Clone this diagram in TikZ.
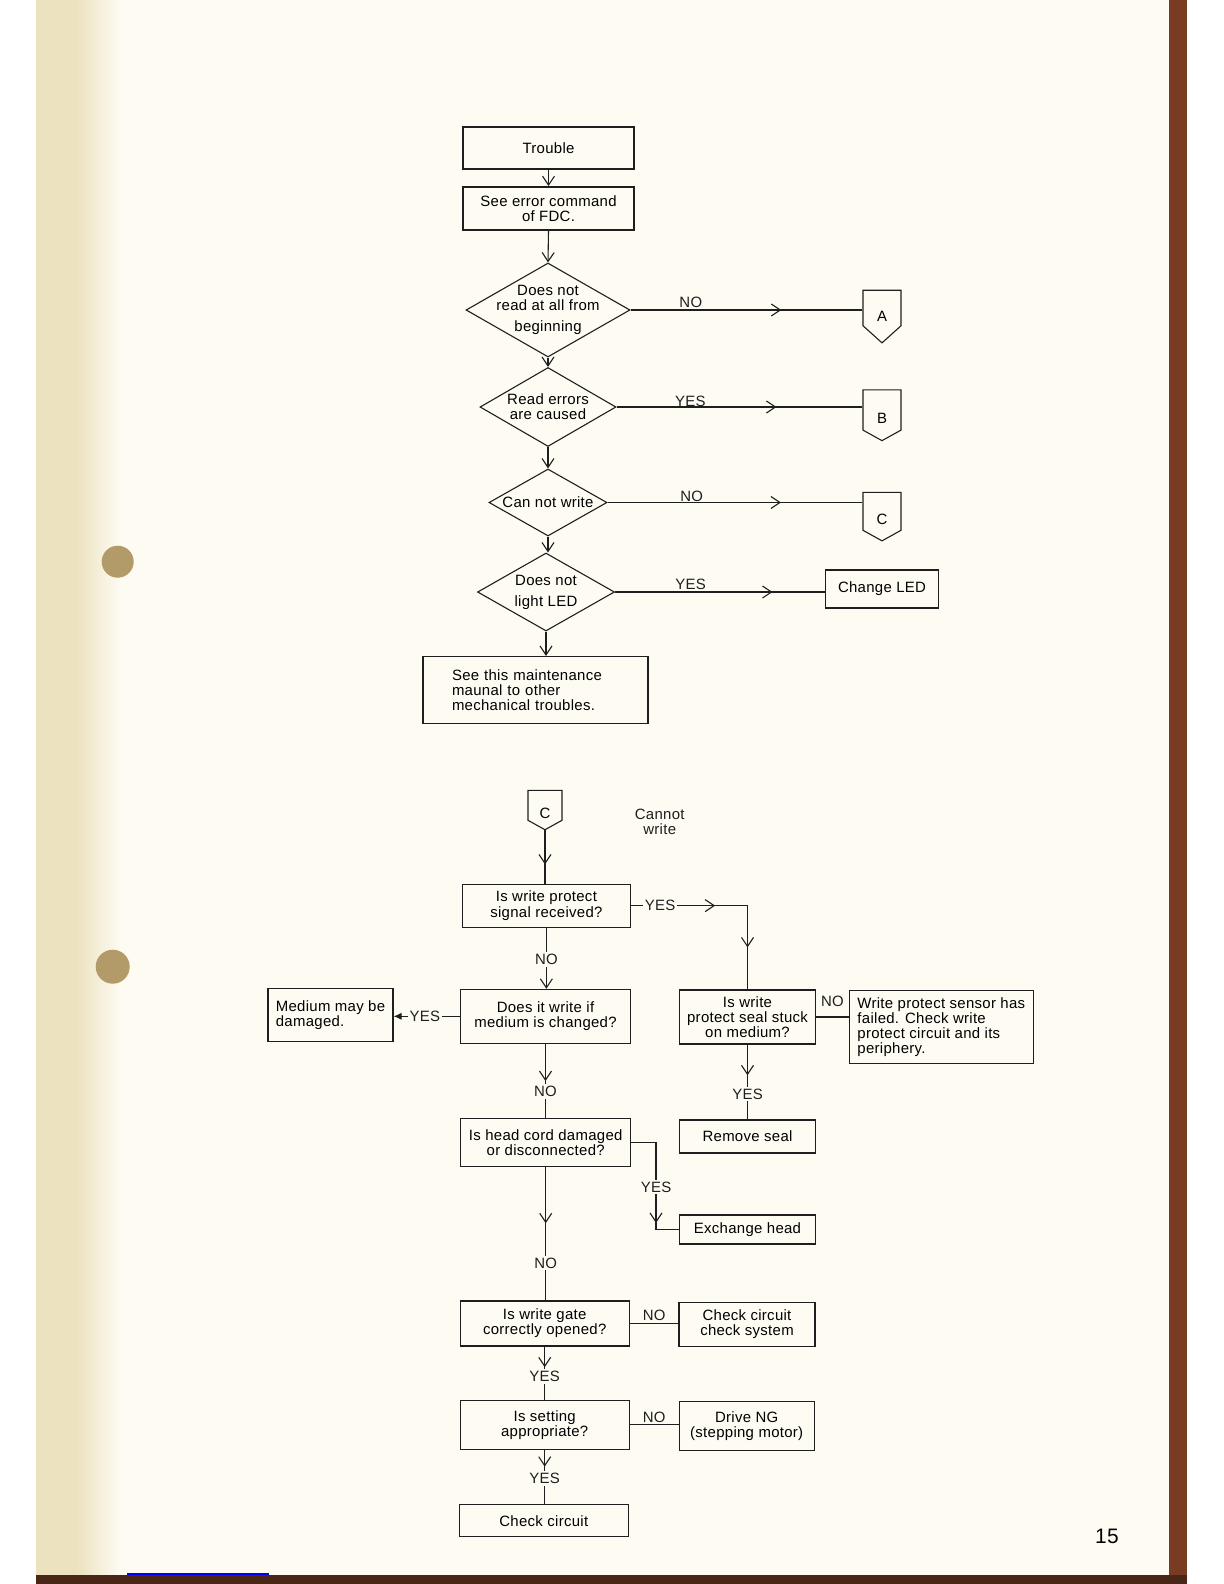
\documentclass[tikz,border=0pt]{standalone}
\usepackage{fontspec}
\setmainfont{Liberation Sans}[LetterSpace=2]
\usetikzlibrary{shapes.geometric, shapes.symbols, arrows.meta, decorations.markings, calc}
\definecolor{papel}{HTML}{FDFBF2}
\definecolor{lomo}{HTML}{EDE2BF}
\definecolor{canto}{HTML}{7A3B23}
\definecolor{fondo}{HTML}{4A2616}
\definecolor{agujero}{HTML}{B39A69}
\definecolor{tinta}{HTML}{1E1E1E}
\newdimen\pxl \pxl=0.5bp
\tikzset{
  caja/.style={rectangle, draw=tinta, line width=0.55pt, align=center, inner sep=2pt},
  cajadoble/.style={caja, line width=0.9pt},
  cajaizq/.style={caja, align=left},
  rombo/.style={diamond, draw=tinta, line width=0.55pt, align=center, aspect=1.75, inner xsep=-8pt, inner ysep=-1pt},
  conector/.style={signal, signal to=south, signal pointer angle=#1, draw=tinta, line width=0.55pt, inner sep=0pt,
                   minimum width=38\pxl, text height=13bp, text depth=0pt},
  conector/.default=120,
  linea/.style={draw=tinta, line width=0.55pt},
  flecha/.style={linea, -{Straight Barb[length=4.5bp, width=6bp]}},
  puntaen/.style={postaction={decorate, decoration={markings, mark=at position #1 with {\arrow{Straight Barb[length=4.5bp, width=6bp]}}}}},
  etiq/.style={inner sep=1pt, text=tinta},
  corte/.style={etiq, fill=papel}
}
\begin{document}
\begin{tikzpicture}[x=0.5bp, y=-0.5bp, font=\fontsize{7.5}{7.6}\selectfont]
  \useasboundingbox (0,0) rectangle (1224,1584);
  % la hoja escaneada
  \fill [white] (0,0) rectangle (1224,1584);
  \fill [papel] (36,0) rectangle (1169,1575);
  \fill [lomo] (36,0) rectangle (76,1575);
  \shade [left color=lomo, right color=papel] (76,0) rectangle (120,1575);
  \fill [canto] (1169,0) rectangle (1187,1584);
  \fill [fondo] (36,1575) rectangle (1187,1584);
  \draw [blue, line width=0.8pt] (127,1574) -- (269,1574);
  \fill [agujero] (117.7,561.7) circle (16);
  \fill [agujero] (112.7,966.7) circle (17);

  % Diagrama superior
  \node (trouble) [cajadoble, minimum width=171\pxl, minimum height=42\pxl] at (548.5,148) {Trouble};
  \node (error) [cajadoble, minimum width=171\pxl, minimum height=43\pxl] at (548.5,208.5) {See error command\\ of FDC.};
  \node (d1) [rombo, minimum width=164\pxl, minimum height=94\pxl] at (548,310) {Does not\\ read at all from\\[3bp] beginning};
  \node (d2) [rombo, minimum width=136\pxl, minimum height=79\pxl] at (548,407) {Read errors\\ are caused};
  \node (d3) [rombo, minimum width=118\pxl, minimum height=67\pxl] at (548,502.5) {Can not write};
  \node (d4) [rombo, minimum width=137\pxl, minimum height=78\pxl] at (546,592) {Does not\\[3bp] light LED};
  \node (mant) [cajaizq, text width=167\pxl, inner xsep=29\pxl, minimum height=67\pxl] at (535.5,690) {See this maintenance\\ maunal to other\\ mechanical troubles.};
  \node (A) [conector=96, minimum height=40\pxl] at (882,308) {A};
  \node (B) [conector=122, minimum height=43\pxl] at (882,410) {B};
  \node (C) [conector=122, minimum height=41\pxl] at (882,511.3) {C};
  \node (led) [caja, minimum width=113\pxl, minimum height=38\pxl] at (882,589) {Change LED};
  \draw [flecha] (trouble.south) -- (error.north);
  \draw [flecha] (error.south) -- (d1.north);
  \draw [flecha] (d1.south) -- (d2.north);
  \draw [flecha] (d2.south) -- (d3.north);
  \draw [flecha] (d3.south) -- (d3.south |- d4.north);
  \draw [flecha] (d4.south) -- (d4.south |- mant.north);
  \draw [linea, puntaen=0.65] (d1.east) -- node [etiq, above, pos=0.26] {NO} (d1.east -| A.west);
  \draw [linea, puntaen=0.65] (d2.east) -- node [etiq, above=-1pt, pos=0.30] {YES} (d2.east -| B.west);
  \draw [linea, puntaen=0.68] (d3.east) -- node [etiq, above=-1pt, pos=0.33] {NO} (d3.east -| C.west);
  \draw [linea, puntaen=0.75] (d4.east) -- node [etiq, above, pos=0.36] {YES} (d4.east -| led.west);

  % Diagrama inferior: no se puede escribir
  \node (C2) [conector=122, minimum width=34\pxl, minimum height=33\pxl] at (545,805.3) {C};
  \node (titulo) [etiq, align=center] at (659.7,822) {Cannot\\ write};
  \node (wp) [caja, minimum width=168\pxl, minimum height=43\pxl] at (546.4,905.6) {Is write protect\\ signal received?};
  \node (cambio) [caja, minimum width=170\pxl, minimum height=54\pxl] at (545.5,1016.3) {Does it write if\\ medium is changed?};
  \node (dano) [cajaizq, minimum width=125\pxl, minimum height=53\pxl] at (330.5,1015) {Medium may be\\ damaged.};
  \node (sello) [caja, minimum width=136\pxl, minimum height=54\pxl] at (747.5,1017) {Is write\\ protect seal stuck\\ on medium?};
  \node (sensor) [cajaizq, minimum width=184\pxl, minimum height=73\pxl] at (941.3,1027) {Write protect sensor has\\ failed. Check write\\ protect circuit and its\\ periphery.};
  \node (quitar) [caja, minimum width=136\pxl, minimum height=33\pxl] at (747.5,1136.5) {Remove seal};
  \node (cabeza) [caja, minimum width=170\pxl, minimum height=48\pxl] at (545.7,1142.8) {Is head cord damaged\\ or disconnected?};
  \node (cambiar) [caja, minimum width=136\pxl, minimum height=29\pxl] at (747.5,1229.5) {Exchange head};
  \node (puerta) [caja, minimum width=169\pxl, minimum height=45\pxl] at (544.7,1323.5) {Is write gate\\ correctly opened?};
  \node (circuito) [caja, minimum width=136\pxl, minimum height=44\pxl] at (747,1324.5) {Check circuit\\ check system};
  \node (ajuste) [caja, minimum width=169\pxl, minimum height=49\pxl] at (544.7,1424.7) {Is setting\\ appropriate?};
  \node (motor) [caja, minimum width=135\pxl, minimum height=49\pxl] at (746.7,1426.2) {Drive NG\\ (stepping motor)};
  \node (final) [caja, minimum width=169\pxl, minimum height=32\pxl] at (543.8,1520.8) {Check circuit};
  \coordinate (esq) at (656,1186.7);
  \draw [linea, puntaen=0.64] (C2.south) -- (C2.south |- wp.north);
  \draw [flecha] (wp.south) -- node [corte, pos=0.52] {NO} (wp.south |- cambio.north);
  \draw [linea, puntaen=0.42, puntaen=0.79] (wp.east) -- node [corte, pos=0.25] {YES} (wp.east -| sello.north) -- (sello.north);
  \draw [linea, -{Latex[length=4bp, width=3.5bp]}] (cambio.west) -- node [corte, pos=0.53] {YES} (cambio.west -| dano.east);
  \draw [linea] (sello.east) -- node [etiq, above=4pt] {NO} (sello.east -| sensor.west);
  \draw [linea, puntaen=0.41] (sello.south) -- node [corte, pos=0.66] {YES} (quitar.north);
  \draw [linea, puntaen=0.5] (cambio.south) -- node [corte, pos=0.64] {NO} (cambio.south |- cabeza.north);
  \draw [linea, puntaen=0.78] (cabeza.east) -- (cabeza.east -| esq) -- node [corte, pos=0.51] {YES} (esq |- cambiar.west) -- (cambiar.west);
  \draw [linea, puntaen=0.42] (cabeza.south) -- node [corte, pos=0.72] {NO} (cabeza.south |- puerta.north);
  \draw [linea] (puerta.east) -- node [etiq, above] {NO} (puerta.east -| circuito.west);
  \draw [linea, puntaen=0.39] (puerta.south) -- node [corte, pos=0.56] {YES} (puerta.south |- ajuste.north);
  \draw [linea] (ajuste.east) -- node [etiq, above] {NO} (ajuste.east -| motor.west);
  \draw [linea, puntaen=0.31] (ajuste.south) -- node [corte, pos=0.53] {YES} (ajuste.south |- final.north);

  \node (pagina) [font=\fontsize{10.5}{12}\selectfont] at (1107,1536) {15};
\end{tikzpicture}
\end{document}
